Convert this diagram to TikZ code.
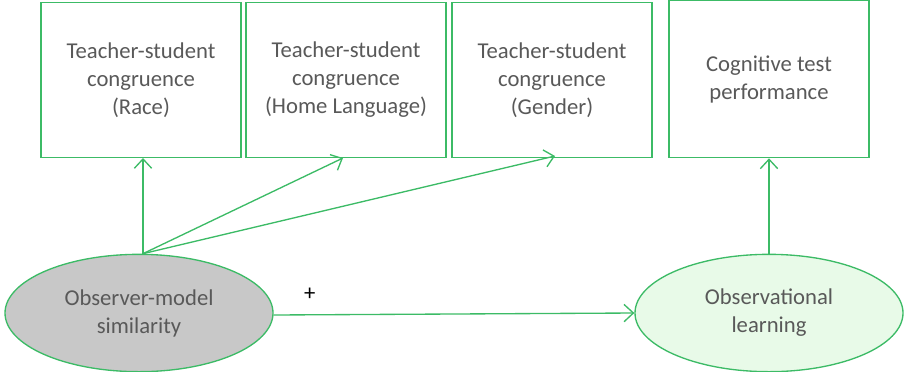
\documentclass[tikz,border=0pt]{standalone}
\usepackage{fontspec}
\setmainfont{Carlito}
\usetikzlibrary{shapes.geometric,arrows.meta}

\definecolor{linegreen}{RGB}{60,187,102}
\definecolor{textgray}{RGB}{89,89,89}
\definecolor{ellgray}{RGB}{200,200,200}
\definecolor{ellgreen}{RGB}{232,250,232}

\tikzset{
  box/.style={draw=linegreen, line width=1pt, fill=white, minimum width=150pt,
    minimum height=116pt, inner sep=0pt, align=center, text=textgray},
  oval/.style={ellipse, draw=linegreen, line width=1pt, minimum width=201pt,
    minimum height=88pt, inner sep=0pt, align=center, text=textgray},
  link/.style={draw=linegreen, line width=1pt, -{Straight Barb[length=7pt,width=13pt]}}
}

\begin{document}
\begin{tikzpicture}[x=0.75pt, y=-0.75pt, font=\fontsize{17}{21}\selectfont]
  % Fix the frame of the picture
  \useasboundingbox (0,0) rectangle (905,371);

  % Top row of boxes
  \node[box] (race) at (141,80) {Teacher-student\\congruence\\(Race)};
  \node[box] (lang) at (346,80) {Teacher-student\\congruence\\(Home Language)};
  \node[box] (gend) at (552,80) {Teacher-student\\congruence\\(Gender)};
  \node[box, minimum height=118pt] (cogn) at (769,79) {Cognitive test\\performance};

  % Ellipses at the bottom
  \node[oval, fill=ellgray] (sim) at (139,313) {Observer-model\\similarity};
  \node[oval, fill=ellgreen] (obs) at (769,313) {Observational\\learning};

  % Arrows from similarity up to the three boxes
  \coordinate (src) at ([xshift=3pt]sim.north);
  \draw[link] (src) -- (race.south -| src);
  \draw[link] (src) -- ([xshift=-2.25pt]lang.south);
  \draw[link] (src) -- ([xshift=2.25pt,yshift=1.5pt]gend.south);
  \draw[link] (obs.north) -- (cogn.south);

  % Main path
  \draw[link] ([yshift=-1.5pt]sim.east) -- node[pos=0.1, above=7pt, text=black] {+} (obs.west);
\end{tikzpicture}
\end{document}
